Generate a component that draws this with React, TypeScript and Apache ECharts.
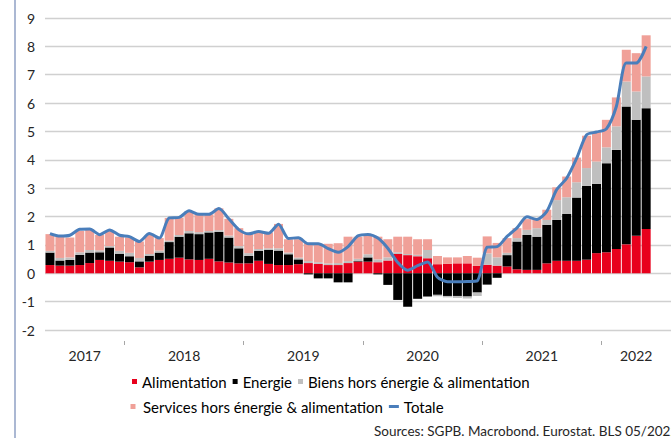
import React, { useEffect, useRef } from 'react';
import * as echarts from 'echarts';

// Months: May 2017 .. Jul 2022 (last two months without data)
const months: string[] = (() => {
  const out: string[] = [];
  let y = 2017;
  let m = 5;
  for (let i = 0; i < 63; i++) {
    out.push(`${y}-${String(m).padStart(2, '0')}`);
    m++;
    if (m > 12) { m = 1; y++; }
  }
  return out;
})();

const yearLabels = ['2017', '2018', '2019', '2020', '2021', '2022'];
// positions on a half-month grid (127 points spanning the 63 months)
const yearLabelPos = [8, 28, 52, 76, 100, 119];
const yearTickPos = [16, 40, 64, 88, 112];

const alimentation = [
  0.29, 0.27, 0.27, 0.29, 0.36, 0.47, 0.44, 0.41, 0.39, 0.21, 0.41, 0.47,
  0.51, 0.55, 0.49, 0.47, 0.51, 0.42, 0.38, 0.35, 0.35, 0.44, 0.33, 0.29,
  0.29, 0.32, 0.36, 0.33, 0.29, 0.29, 0.36, 0.41, 0.41, 0.39, 0.45, 0.68,
  0.64, 0.6, 0.53, 0.32, 0.33, 0.35, 0.35, 0.26, 0.3, 0.27, 0.24, 0.14,
  0.12, 0.12, 0.35, 0.44, 0.44, 0.44, 0.48, 0.71, 0.74, 0.86, 1.02, 1.32, 1.56,
];
const energie = [
  0.44, 0.18, 0.2, 0.36, 0.37, 0.27, 0.47, 0.28, 0.21, 0.21, 0.21, 0.26,
  0.59, 0.74, 0.92, 0.91, 0.93, 1.04, 0.88, 0.53, 0.26, 0.35, 0.49, 0.51,
  0.38, 0.17, -0.04, -0.18, -0.18, -0.32, -0.32, 0.02, 0.15, -0.04, -0.41, -0.94,
  -1.18, -0.9, -0.82, -0.76, -0.8, -0.8, -0.82, -0.68, -0.4, -0.16, 0.4, 0.98,
  1.23, 1.17, 1.36, 1.44, 1.65, 2.23, 2.6, 2.44, 3.14, 3.49, 4.86, 4.09, 4.26,
];
const biens = [
  0.06, 0.09, 0.09, 0.09, 0.09, 0.07, 0.05, 0.1, 0.12, 0.12, 0.06, 0.07,
  0.05, 0.06, 0.08, 0.07, 0.05, 0.06, 0.07, 0.08, 0.1, 0.07, 0.06, 0.08,
  0.06, 0.06, 0.07, 0.06, 0.06, 0.07, 0.07, 0.08, 0.11, 0.1, 0.11, 0.06,
  0.04, 0.05, 0.29, -0.05, -0.05, -0.07, -0.07, -0.12, 0.4, 0.29, 0.08, 0.12,
  0.18, 0.3, 0.17, 0.7, 0.59, 0.54, 0.63, 0.79, 0.56, 0.83, 0.88, 1.0, 1.12,
];
const services = [
  0.59, 0.74, 0.7, 0.75, 0.73, 0.54, 0.53, 0.5, 0.54, 0.58, 0.67, 0.44,
  0.8, 0.61, 0.69, 0.64, 0.59, 0.77, 0.59, 0.63, 0.68, 0.63, 0.56, 0.86,
  0.47, 0.65, 0.63, 0.65, 0.69, 0.7, 0.86, 0.78, 0.65, 0.8, 0.64, 0.55,
  0.61, 0.55, 0.38, 0.29, 0.23, 0.21, 0.26, 0.29, 0.6, 0.51, 0.52, 0.35,
  0.38, 0.32, 0.36, 0.45, 0.73, 0.87, 1.14, 1.04, 0.97, 1.02, 1.12, 1.35, 1.45,
];
const totale = [
  1.4, 1.31, 1.34, 1.55, 1.56, 1.36, 1.53, 1.34, 1.29, 1.12, 1.4, 1.24,
  1.95, 1.97, 2.2, 2.08, 2.08, 2.28, 1.92, 1.54, 1.39, 1.47, 1.41, 1.73,
  1.23, 1.25, 1.04, 1.04, 0.87, 0.74, 0.94, 1.32, 1.37, 1.24, 0.88, 0.38,
  0.11, 0.27, 0.4, -0.14, -0.3, -0.3, -0.29, -0.27, 0.92, 0.94, 1.3, 1.6,
  1.99, 1.9, 2.18, 2.95, 3.35, 4.05, 4.88, 4.98, 5.09, 5.88, 7.41, 7.41, 8.0,
];

const yMin = -2;
const yMax = 9;

const yearAxisData: string[] = (() => {
  const arr: string[] = new Array(127).fill('');
  yearLabelPos.forEach((p, i) => { arr[p] = yearLabels[i]; });
  return arr;
})();

const FONT = 'Lato, "Open Sans", sans-serif';

export default function App() {
  const ref = useRef<HTMLDivElement>(null);

  useEffect(() => {
    if (!ref.current) return;
    const chart = echarts.init(ref.current, undefined, { renderer: 'svg' });
    const barBase = { type: 'bar', stack: 'total', barWidth: 9, xAxisIndex: 0, yAxisIndex: 0 };
    chart.setOption({
      animation: false,
      textStyle: { fontFamily: FONT },
      grid: { left: 45, top: 18, width: 628, height: 312, containLabel: false },
      xAxis: [
        {
          type: 'category',
          data: months,
          show: false,
          boundaryGap: true,
        },
        {
          type: 'category',
          data: yearAxisData,
          boundaryGap: false,
          position: 'bottom',
          offset: 11,
          axisLine: { show: false },
          axisTick: {
            show: true,
            length: 4,
            interval: (i: number) => yearTickPos.includes(i),
            lineStyle: { color: '#a6a6a6', width: 1 },
          },
          axisLabel: {
            interval: (_i: number, v: string) => v !== '',
            fontSize: 14,
            color: '#262626',
            margin: 7,
            fontFamily: FONT,
          },
          splitLine: { show: false },
        },
      ],
      yAxis: {
        type: 'value',
        min: yMin,
        max: yMax,
        interval: 1,
        axisLine: { show: false },
        axisTick: { show: false },
        axisLabel: { fontSize: 14, color: '#262626', margin: 10, fontFamily: FONT },
        splitLine: { lineStyle: { color: '#d0d0d0', width: 1.3 } },
      },
      legend: [
        {
          left: 132,
          top: 374,
          padding: 0,
          itemWidth: 5,
          itemHeight: 5,
          itemGap: 6,
          icon: 'rect',
          textStyle: { fontSize: 15, color: '#000', fontFamily: FONT },
          data: ['Alimentation', 'Energie', 'Biens hors énergie & alimentation'],
        },
        {
          left: 130.5,
          top: 399,
          padding: 0,
          itemWidth: 10,
          itemHeight: 5,
          itemGap: 6,
          textStyle: { fontSize: 15, color: '#000', fontFamily: FONT },
          data: [
            { name: 'Services hors énergie & alimentation', icon: 'path://M0,0h10v10h-10z' },
            { name: 'Totale', icon: 'path://M0,0h10v3h-10z' },
          ],
        },
      ],
      series: [
        { ...barBase, name: 'Alimentation', data: alimentation, itemStyle: { color: '#e8001c' } },
        { ...barBase, name: 'Energie', data: energie, itemStyle: { color: '#000000' } },
        { ...barBase, name: 'Biens hors énergie & alimentation', data: biens, itemStyle: { color: '#bfbfbf' } },
        { ...barBase, name: 'Services hors énergie & alimentation', data: services, itemStyle: { color: '#f0a098' } },
        {
          type: 'line',
          name: 'Totale',
          data: totale,
          xAxisIndex: 0,
          yAxisIndex: 0,
          symbol: 'none',
          smooth: 0.25,
          itemStyle: { color: '#4a7ebb' },
          lineStyle: { color: '#4a7ebb', width: 3 },
          z: 5,
        },
      ],
      graphic: [
        {
          type: 'line',
          shape: { x1: 15, y1: 0, x2: 15, y2: 438 },
          style: { stroke: '#8fa0c4', lineWidth: 1.5 },
          silent: true,
        },
        {
          type: 'text',
          left: 374,
          top: 424,
          style: {
            text: 'Sources: SGPB. Macrobond. Eurostat. BLS 05/2022',
            fontSize: 13.5,
            fill: '#262626',
            fontFamily: FONT,
          },
          silent: true,
        },
      ],
    });
    return () => chart.dispose();
  }, []);

  return (
    <div
      ref={ref}
      style={{ position: 'absolute', left: 0, top: 0, width: 671, height: 438, overflow: 'hidden' }}
    />
  );
}
